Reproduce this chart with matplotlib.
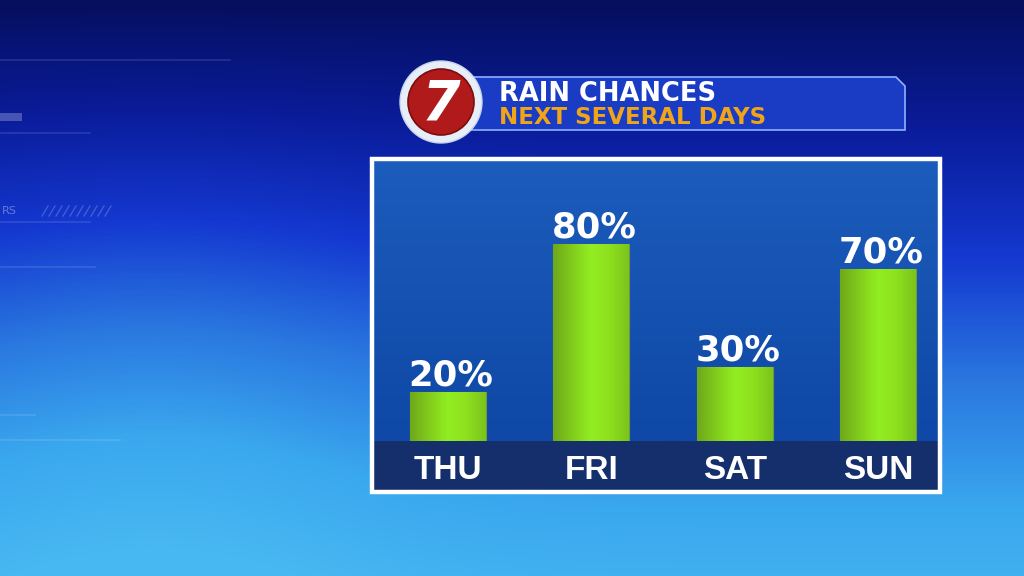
import numpy as np
import matplotlib
matplotlib.use("Agg")
import matplotlib.pyplot as plt
from matplotlib.patches import Rectangle, Circle, Polygon
from matplotlib.colors import LinearSegmentedColormap

# data
days = ["THU", "FRI", "SAT", "SUN"]
rain_pct = [20, 80, 30, 70]
title_top = "RAIN CHANCES"
title_sub = "NEXT SEVERAL DAYS"

W, H = 1024, 576
fig = plt.figure(figsize=(W / 100, H / 100), dpi=100)

# background in pixel coords
bg = fig.add_axes([0, 0, 1, 1])
bg.set_xlim(0, W)
bg.set_ylim(H, 0)
bg.axis("off")

bg_cmap = LinearSegmentedColormap.from_list(
    "bg", ["#050f5e", "#0a1c9a", "#1438d0", "#2a78e0", "#3aa8ee", "#48b8f2"])
yy, xx = np.mgrid[0:1:200j, 0:1:300j]
grad = yy * 0.9 + 0.15 * np.exp(-((xx - 0.15) ** 2) / 0.05) * yy
bg.imshow(grad, cmap=bg_cmap, extent=[0, W, H, 0], aspect="auto",
          vmin=0, vmax=1, zorder=0)

# faint decorative lines
for y0, x0, x1 in [(60, 0, 230), (133, 0, 90), (222, 0, 90), (267, 0, 95),
                   (415, 0, 35), (440, 0, 120)]:
    bg.plot([x0, x1], [y0, y0], color="white", alpha=0.12, lw=1.2, zorder=1)
bg.add_patch(Rectangle((0, 113), 22, 8, color="white", alpha=0.25, lw=0, zorder=1))
bg.text(2, 211, "RS", color="white", alpha=0.35, fontsize=8, va="center", zorder=1)
for i in range(10):
    bg.plot([42 + i * 7, 48 + i * 7], [216, 206], color="white", alpha=0.2,
            lw=1, zorder=1)

# panel
px0, px1, py0, py1 = 372, 940, 159, 492
panel_cmap = LinearSegmentedColormap.from_list("panel", ["#1c5cbc", "#0f48a6"])
bg.imshow(np.linspace(0, 1, 100).reshape(-1, 1), cmap=panel_cmap,
          extent=[px0, px1, 441, py0], aspect="auto", zorder=2)
bg.add_patch(Rectangle((px0, 441), px1 - px0, py1 - 441, color="#152e6c",
                       lw=0, zorder=2))
bg.add_patch(Rectangle((px0, py0), px1 - px0, py1 - py0, fill=False,
                       ec="white", lw=3.2, zorder=6))

# title banner
banner = Polygon([(450, 77), (896, 77), (905, 86), (905, 130), (450, 130)],
                 closed=True, fc="#1a3cc4", ec="#8fb0ff", lw=1.2, zorder=3)
bg.add_patch(banner)
bg.text(499, 94, title_top, color="white", fontsize=18.5, fontweight="heavy",
        family="DejaVu Sans", va="center", ha="left", zorder=4)
bg.text(499, 117, title_sub, color="#f0a418", fontsize=16.5, fontweight="heavy",
        family="DejaVu Sans", va="center", ha="left", zorder=4)

# logo
bg.add_patch(Circle((441, 102), 41, fc="#e8eef8", ec="#c8d4ee", lw=1, zorder=4))
bg.add_patch(Circle((441, 102), 33, fc="#b01a1a", ec="#7a0d0d", lw=1.2, zorder=5))
bg.text(441, 104, "7", color="white", fontsize=40, fontweight="heavy",
        style="italic", ha="center", va="center", zorder=6)

# chart axes over the panel, bars grow from the strip
ax = fig.add_axes([375 / W, 1 - 441 / H, (937 - 375) / W, (441 - 163) / H])
ax.set_facecolor("none")
ax.set_xlim(-0.51, 3.41)
ax.set_ylim(0, 113)
for s in ax.spines.values():
    s.set_visible(False)
ax.set_yticks([])
ax.set_xticks(range(len(days)))
ax.set_xticklabels(days)
ax.tick_params(axis="x", length=0, pad=10)
for lbl in ax.get_xticklabels():
    lbl.set_color("white")
    lbl.set_fontsize(24)
    lbl.set_fontweight("bold")
    lbl.set_family("Liberation Sans")

x = np.arange(len(days))
bars = ax.bar(x, rain_pct, width=0.53, color="#86d81c", edgecolor="#6f9a3a",
              linewidth=0.8, zorder=2)

bar_cmap = LinearSegmentedColormap.from_list(
    "bar", ["#6fa81a", "#82cc1c", "#92ee22", "#8ee01e", "#7cc41c"])
for b in bars:
    im = ax.imshow(np.linspace(0, 1, 64).reshape(1, -1), cmap=bar_cmap,
                   extent=[b.get_x(), b.get_x() + b.get_width(), 0, b.get_height()],
                   aspect="auto", zorder=3)
    im.set_clip_path(b)
    ax.text(b.get_x() + b.get_width() / 2 + 0.02, b.get_height() + 2.6,
            f"{int(b.get_height())}%", color="white", fontsize=25.5,
            fontweight="heavy", ha="center", va="baseline", zorder=4)

fig.savefig("out.png", dpi=100)
